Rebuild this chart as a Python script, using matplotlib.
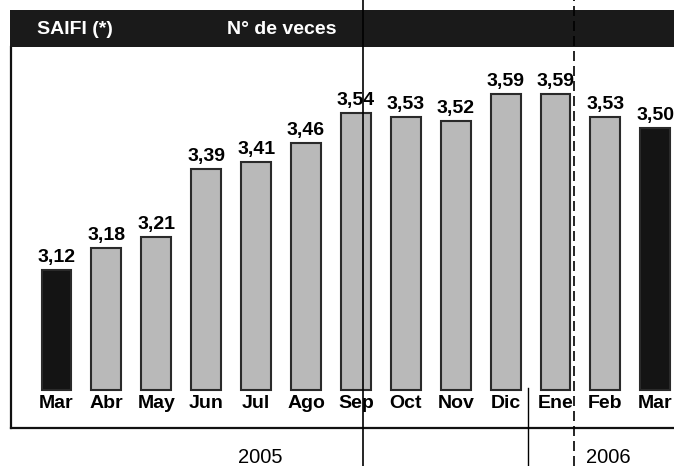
import matplotlib
matplotlib.use("Agg")
import matplotlib.pyplot as plt
from matplotlib.lines import Line2D
from matplotlib.patches import Rectangle

# =========================
# DATA
# =========================
months = ["Mar", "Abr", "May", "Jun", "Jul", "Ago", "Sep",
          "Oct", "Nov", "Dic", "Ene", "Feb", "Mar"]
saifi = [3.12, 3.18, 3.21, 3.39, 3.41, 3.46, 3.54,
         3.53, 3.52, 3.59, 3.59, 3.53, 3.50]
highlight = [True] + [False] * 11 + [True]
years = ["2005", "2006"]

base = 2.8

# =========================
# FIGURE
# =========================
plt.rcParams["font.family"] = ["Liberation Sans", "DejaVu Sans"]

W, H = 674, 466
fig = plt.figure(figsize=(W / 100, H / 100), dpi=100)
fig.patch.set_facecolor("white")

# axes box: left border at x=11px, bottom at y=428px, top under header (47px)
ax = fig.add_axes([11 / W, (H - 428) / H, (W - 11) / W, (428 - 47) / H])
ax.set_xlim(-0.912, 12.375)
ax.set_ylim(2.698, 3.717)

x = list(range(len(months)))
heights = [v - base for v in saifi]
colors = ["#141414" if h else "#b9b9b9" for h in highlight]

ax.bar(x, heights, bottom=base, width=0.6, color=colors,
       edgecolor="#2a2a2a", linewidth=1.5)

for i, (m, v) in enumerate(zip(months, saifi)):
    ax.annotate(f"{v:.2f}".replace(".", ","), xy=(i, v), xytext=(0, 8),
                textcoords="offset pixels", ha="center", va="baseline",
                fontsize=14, fontweight="bold")
    ax.annotate(m, xy=(i, base), xytext=(0, -18),
                textcoords="offset pixels", ha="center", va="baseline",
                fontsize=14, fontweight="bold")

ax.set_xticks([])
ax.set_yticks([])
for s in ["top", "right"]:
    ax.spines[s].set_visible(False)
for s in ["left", "bottom"]:
    ax.spines[s].set_linewidth(1.6)
    ax.spines[s].set_color("#111111")

# header band
fig.add_artist(Rectangle((10 / W, (H - 47) / H), 1 - 10 / W, 37 / H,
                         transform=fig.transFigure, facecolor="#1a1a1a",
                         edgecolor="none"))
fig.text(37 / W, (H - 29) / H, "SAIFI (*)", color="white", fontsize=14,
         fontweight="bold", va="center", ha="left")
fig.text(227 / W, (H - 29) / H, "N° de veces", color="white", fontsize=14,
         fontweight="bold", va="center", ha="left")

# year labels
fig.text(260 / W, (H - 463) / H, years[0], fontsize=14.5, ha="center",
         va="baseline")
fig.text(586 / W, (H - 463) / H, years[1], fontsize=14.5, ha="left",
         va="baseline")

# scanned page lines
fig.add_artist(Line2D([363 / W, 363 / W], [0, 1], color="black", lw=1.2,
                      transform=fig.transFigure))
fig.add_artist(Line2D([574 / W, 574 / W], [0, 1], color="black", lw=1.2,
                      linestyle=(0, (6, 3)), transform=fig.transFigure))
fig.add_artist(Line2D([528 / W, 528 / W], [0, (H - 388) / H], color="black",
                      lw=1.0, transform=fig.transFigure))

fig.savefig("out.png", dpi=100)
